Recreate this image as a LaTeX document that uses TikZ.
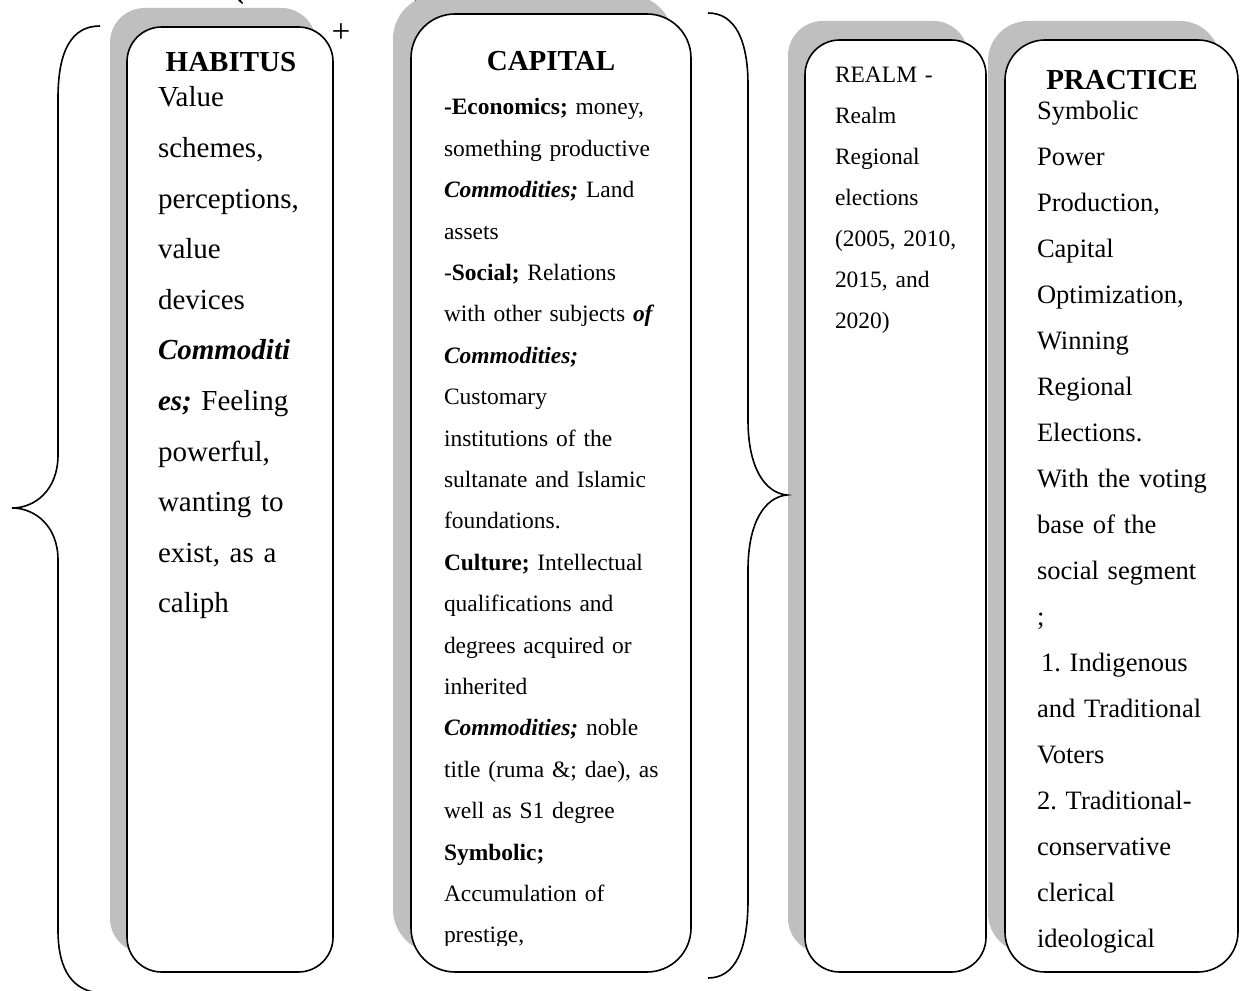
\documentclass[tikz,border=0pt]{standalone}
\usepackage{fontspec}
\setmainfont{Liberation Serif}
\frenchspacing
\begin{document}
\begin{tikzpicture}[x=0.75pt,y=-0.75pt,
  shadowbox/.style={fill=black!25, draw=none},
  panel/.style={draw=black, line width=1.2pt, fill=white},
  brace/.style={draw=black, line width=1.2pt},
  txt/.style={anchor=north west, inner sep=0pt, outer sep=0pt, text width=260pt, align=left},
  ttl/.style={inner sep=0pt, anchor=base, font=\fontsize{21.75pt}{26pt}\selectfont\bfseries},
  cut/.style={inner sep=0pt, anchor=base west, font=\fontsize{21.75pt}{26pt}\selectfont\bfseries},
]
\useasboundingbox (0,0) rectangle (1240,991);
\fill[white] (0,0) rectangle (1240,991);

% clipped heading at the top edge
\node[cut] (cutA) at (234,-1.5) {(};
\node[cut] (cutB) at (413,-1.5) {p};
\node[cut] (cutC) at (474,-1.5) {)};

% shadows
\path[shadowbox, rounded corners=26pt] (110,8) rectangle (316,953);
\path[shadowbox, rounded corners=33pt] (393,-5) rectangle (673,953);
\path[shadowbox, rounded corners=26pt] (788,21) rectangle (968,953);
\path[shadowbox, rounded corners=30pt] (988,21) rectangle (1220,953);

% panels
\draw[panel, rounded corners=26pt] (127,27) rectangle (333,972);
\draw[panel, rounded corners=33pt] (411,14) rectangle (691,972);
\draw[panel, rounded corners=26pt] (805,40) rectangle (986,972);
\draw[panel, rounded corners=30pt] (1005,40) rectangle (1238,972);

% braces
\draw[brace] (100,26) .. controls (72,26) and (58,50) .. (58,98) -- (58,455)
  .. controls (58,490) and (35,508) .. (12,508)
  .. controls (35,508) and (58,526) .. (58,560) -- (58,930)
  .. controls (58,972) and (74,991) .. (100,993);
\draw[brace] (708,13) .. controls (735,13) and (748,40) .. (748,85) -- (748,420)
  .. controls (748,468) and (765,493) .. (787,495)
  .. controls (765,497) and (748,522) .. (748,570) -- (748,900)
  .. controls (748,950) and (735,978) .. (708,978);

% plus sign
\node[inner sep=0pt, font=\fontsize{25pt}{28pt}\selectfont] (plus) at (341,33) {+};

% titles
\node[ttl] (habtitle) at (231,72) {HABITUS};
\node[ttl] (captitle) at (551,71) {CAPITAL};
\node[ttl] (practitle) at (1122,90) {PRACTICE};

% habitus text
\node[txt, font=\fontsize{21.75pt}{37.95pt}\selectfont] (habtext) at (158,80.33)
{\rule{0pt}{20pt}Value\\schemes,\\perceptions,\\value\\devices\\\textbf{\textit{Commoditi}}\\\textbf{\textit{es;}} Feeling\\powerful,\\wanting to\\exist, as a\\caliph};

% capital text (clipped at the bottom of the box)
\begin{scope}
\clip (411,14) rectangle (691,945);
\node[txt, font=\fontsize{17.6pt}{31.05pt}\selectfont] (captext) at (444,88.33)
{\rule{0pt}{20pt}\textbf{-Economics;} money,\\something productive\\\textbf{\textit{Commodities;}} Land\\assets\\-\textbf{Social;} Relations\\with other subjects \textbf{\textit{of}}\\\textbf{\textit{Commodities;}}\\Customary\\institutions of the\\sultanate and Islamic\\foundations.\\\textbf{Culture;} Intellectual\\qualifications and\\degrees acquired or\\inherited\\\textbf{\textit{Commodities;}} noble\\title (ruma \&; dae), as\\well as S1 degree\\\textbf{Symbolic;}\\Accumulation of\\prestige,};
\end{scope}

% realm text
\node[txt, font=\fontsize{17.6pt}{30.75pt}\selectfont] (realmtext) at (835,56.33)
{\rule{0pt}{20pt}REALM -\\Realm\\Regional\\elections\\(2005, 2010,\\2015, and\\2020)};

% practice text
\node[txt, font=\fontsize{19.9pt}{34.5pt}\selectfont] (practext) at (1037,93.33)
{\rule{0pt}{20pt}Symbolic\\Power\\Production,\\Capital\\Optimization,\\Winning\\Regional\\Elections.\\With the voting\\base of the\\social segment\\;\\\hspace*{3pt}1. Indigenous\\and Traditional\\Voters\\2. Traditional-\\conservative\\clerical\\ideological};
\end{tikzpicture}
\end{document}
